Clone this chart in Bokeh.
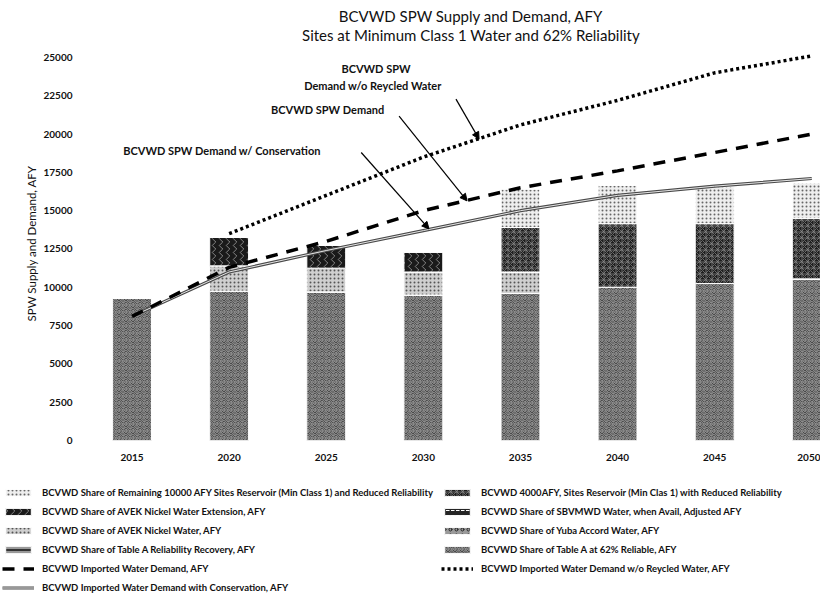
import math
from bokeh.plotting import figure
from bokeh.layouts import column
from bokeh.models import (Range1d, FixedTicker, Legend, LegendItem, Label, Arrow, Title,
                          NormalHead, ColumnDataSource, NumeralTickFormatter)
from bokeh.transform import stack
from bokeh.embed import file_html
from bokeh.resources import INLINE

# ---------------- data ----------------
years = [2015, 2020, 2025, 2030, 2035, 2040, 2045, 2050]
y_ticks = [0, 2500, 5000, 7500, 10000, 12500, 15000, 17500, 20000, 22500, 25000]

table_a_62 = [9300, 9750, 9700, 9500, 9600, 10000, 10250, 10550]
table_a_recovery = [0, 0, 0, 0, 0, 0, 0, 0]
yuba = [0, 0, 0, 0, 0, 0, 0, 0]
avek_nickel = [0, 1650, 1550, 1500, 1400, 0, 0, 0]
sbvmwd = [0, 0, 0, 0, 0, 0, 0, 0]
avek_extension = [0, 1850, 1500, 1300, 0, 0, 0, 0]
sites_4000 = [0, 0, 0, 0, 2900, 4150, 3900, 3950]
sites_remaining = [0, 0, 0, 0, 2500, 2500, 2400, 2300]

demand = [8100, 11300, 13000, 15000, 16500, 17600, 18800, 20000]
demand_no_recycled = [math.nan, 13500, 16000, 18500, 20600, 22200, 24000, 25100]
demand_conservation = [8100, 11000, 12400, 13700, 15000, 16000, 16600, 17100]

names_stack = ["table_a_62", "table_a_recovery", "yuba", "avek_nickel",
               "sbvmwd", "avek_extension", "sites_4000", "sites_remaining"]
labels_stack = {
    "sites_remaining": "BCVWD Share of Remaining 10000 AFY Sites Reservoir (Min Class 1) and Reduced Reliability",
    "sites_4000": "BCVWD 4000AFY, Sites Reservoir (Min Clas 1) with Reduced Reliability",
    "avek_extension": "BCVWD Share of AVEK Nickel Water Extension, AFY",
    "sbvmwd": "BCVWD Share of SBVMWD Water, when Avail, Adjusted AFY",
    "avek_nickel": "BCVWD Share of AVEK Nickel Water, AFY",
    "yuba": "BCVWD Share of Yuba Accord Water, AFY",
    "table_a_recovery": "BCVWD Share of Table A Reliability Recovery, AFY",
    "table_a_62": "BCVWD Share of Table A at 62% Reliable, AFY",
}
lbl_demand = "BCVWD Imported Water Demand, AFY"
lbl_norec = "BCVWD Imported Water Demand w/o Reycled Water, AFY"
lbl_cons = "BCVWD Imported Water Demand with Conservation, AFY"
title_lines = ["BCVWD SPW Supply and Demand, AFY",
               "Sites at Minimum Class 1 Water and 62% Reliability"]
y_title = "SPW Supply and Demand, AFY"

styles = {
    "table_a_62": dict(fill_color="#353535", hatch_pattern="spiral", hatch_color="#d0d0d0", hatch_scale=7, hatch_weight=1, hatch_alpha=0.8),
    "table_a_recovery": dict(fill_color="#333333", hatch_pattern="horizontal_line", hatch_color="white", hatch_scale=4, hatch_weight=1),
    "yuba": dict(fill_color="#9a9a9a", hatch_pattern="ring", hatch_color="#222222", hatch_scale=6, hatch_weight=1),
    "avek_nickel": dict(fill_color="#cfcfcf", hatch_pattern="dot", hatch_color="#555555", hatch_scale=4, hatch_weight=1),
    "sbvmwd": dict(fill_color="#252525", hatch_pattern="horizontal_dash", hatch_color="white", hatch_scale=5, hatch_weight=1),
    "avek_extension": dict(fill_color="#1a1a1a", hatch_pattern="vertical_wave", hatch_color="#b0b0b0", hatch_scale=7, hatch_weight=1, hatch_alpha=0.7),
    "sites_4000": dict(fill_color="#1e1e1e", hatch_pattern="criss_cross", hatch_color="#8a8a8a", hatch_scale=6, hatch_weight=1, hatch_alpha=0.7),
    "sites_remaining": dict(fill_color="#eeeeee", hatch_pattern="dot", hatch_color="#666666", hatch_scale=4, hatch_weight=1),
}
line_styles = {
    "cons_outer": dict(line_color="#4a4a4a", line_width=3.2),
    "cons_inner": dict(line_color="#e6e6e6", line_width=1),
    "demand": dict(line_color="black", line_width=3.5, line_dash="12 9"),
    "norec": dict(line_color="black", line_width=3.5, line_dash="3 3"),
}

src = ColumnDataSource(dict(
    x=years, table_a_62=table_a_62, table_a_recovery=table_a_recovery, yuba=yuba,
    avek_nickel=avek_nickel, sbvmwd=sbvmwd, avek_extension=avek_extension,
    sites_4000=sites_4000, sites_remaining=sites_remaining,
    demand=demand, demand_no_recycled=demand_no_recycled,
    demand_conservation=demand_conservation))

FONT = "Lato"
TXT = "#111111"


def no_frame_align(fig):
    if "frame_align" in fig.properties():
        fig.frame_align = False


# ---------------- chart ----------------
p = figure(width=820, height=465, output_backend="svg", toolbar_location=None,
           x_range=Range1d(2012.5, 2050.45), y_range=Range1d(0, 28720),
           min_border_left=83, min_border_right=0, min_border_top=0,
           min_border_bottom=25)
no_frame_align(p)
p.title.visible = False
p.outline_line_color = None
p.xgrid.visible = False
p.ygrid.visible = False

for i, nm in enumerate(names_stack):
    p.vbar(x="x", width=2.0, bottom=stack(*names_stack[:i]) if i else 0,
           top=stack(*names_stack[:i + 1]), source=src,
           line_color="white", line_width=1, **styles[nm])

p.line("x", "demand_conservation", source=src, **line_styles["cons_outer"])
p.line("x", "demand_conservation", source=src, **line_styles["cons_inner"])
p.line("x", "demand", source=src, **line_styles["demand"])
p.line("x", "demand_no_recycled", source=src, **line_styles["norec"])

p.xaxis.ticker = FixedTicker(ticks=years)
p.yaxis.ticker = FixedTicker(ticks=y_ticks)
p.yaxis.formatter = NumeralTickFormatter(format="0")
for ax in (p.xaxis[0], p.yaxis[0]):
    ax.axis_line_color = None
    ax.major_tick_line_color = None
    ax.minor_tick_line_color = None
    ax.major_label_text_font = FONT
    ax.major_label_text_font_style = "bold"
    ax.major_label_text_font_size = "10px"
    ax.major_label_text_color = TXT
p.xaxis.major_label_standoff = 7
p.yaxis.major_label_standoff = 5

# y-axis title, centred on the 0..25000 span of the axis
p.add_layout(Title(text=y_title, align="left", offset=119, standoff=6,
                   text_font=FONT, text_font_size="11.5px", text_font_style="normal",
                   text_color=TXT), "left")

# two-line chart title, centred over the whole chart area (which runs past the right edge)
for txt, yy in zip(title_lines, [27740, 26500]):
    p.add_layout(Label(x=2032.46, y=yy, text=txt, text_align="center",
                       text_baseline="middle", text_font=FONT,
                       text_font_size="15px", text_color=TXT))

callouts = [("BCVWD SPW", 2027.56, 24280),
            ("Demand w/o Reycled Water", 2027.4, 23170),
            ("BCVWD SPW  Demand", 2025.14, 21600),
            ("BCVWD SPW Demand w/ Conservation", 2019.63, 18930)]
for txt, xx, yy in callouts:
    p.add_layout(Label(x=xx, y=yy, text=txt, text_align="center",
                       text_baseline="middle", text_font=FONT,
                       text_font_style="bold", text_font_size="11px",
                       text_color=TXT))

arrows = [((2031.68, 22280), (2032.87, 19670)),
          ((2028.75, 21170), (2032.25, 15640)),
          ((2026.8, 18800), (2030.29, 13810))]
for (x0, y0), (x1, y1) in arrows:
    p.add_layout(Arrow(x_start=x0, y_start=y0, x_end=x1, y_end=y1,
                       line_width=1.2, line_color="black",
                       end=NormalHead(size=7, fill_color="black", line_color="black")))

# ---------------- legend panel below the chart ----------------
q = figure(width=820, height=147, output_backend="svg", toolbar_location=None,
           x_range=Range1d(0, 1), y_range=Range1d(0, 1),
           x_axis_location=None, y_axis_location=None,
           min_border_left=0, min_border_right=0, min_border_top=0,
           min_border_bottom=0)
no_frame_align(q)
q.title.visible = False
q.outline_line_color = None
q.grid.visible = False

# legend proxies with the same styles as the chart's marks (outside the visible range)
proxy = ColumnDataSource(dict(x=[-5.0, -5.0], y=[-5.0, -5.0]))
leg_r = {}
for nm in names_stack:
    leg_r[nm] = [q.vbar(x="x", top="y", width=1, source=proxy,
                        line_color="white", line_width=1, **styles[nm])]
leg_r["demand"] = [q.line("x", "y", source=proxy, **line_styles["demand"])]
leg_r["norec"] = [q.line("x", "y", source=proxy, **line_styles["norec"])]
leg_r["cons"] = [q.line("x", "y", source=proxy, **line_styles["cons_outer"]),
                 q.line("x", "y", source=proxy, **line_styles["cons_inner"])]

left_col = [("sites_remaining", labels_stack["sites_remaining"]),
            ("avek_extension", labels_stack["avek_extension"]),
            ("avek_nickel", labels_stack["avek_nickel"]),
            ("table_a_recovery", labels_stack["table_a_recovery"]),
            ("demand", lbl_demand),
            ("cons", lbl_cons)]
right_col = [("sites_4000", labels_stack["sites_4000"]),
             ("sbvmwd", labels_stack["sbvmwd"]),
             ("yuba", labels_stack["yuba"]),
             ("table_a_62", labels_stack["table_a_62"]),
             ("norec", lbl_norec)]
items = [LegendItem(label=lab, renderers=leg_r[k]) for k, lab in left_col + right_col]

legend = Legend(items=items, location=(2, 19), ncols=2,
                label_text_font=FONT, label_text_font_style="bold",
                label_text_font_size="9.5px", label_text_color=TXT,
                glyph_width=32, glyph_height=9, label_height=10,
                label_standoff=8, spacing=8, padding=0, margin=0,
                border_line_alpha=0, background_fill_alpha=0)
q.add_layout(legend)

layout = column(p, q, spacing=0)
open("out.html", "w").write(file_html(layout, INLINE))
